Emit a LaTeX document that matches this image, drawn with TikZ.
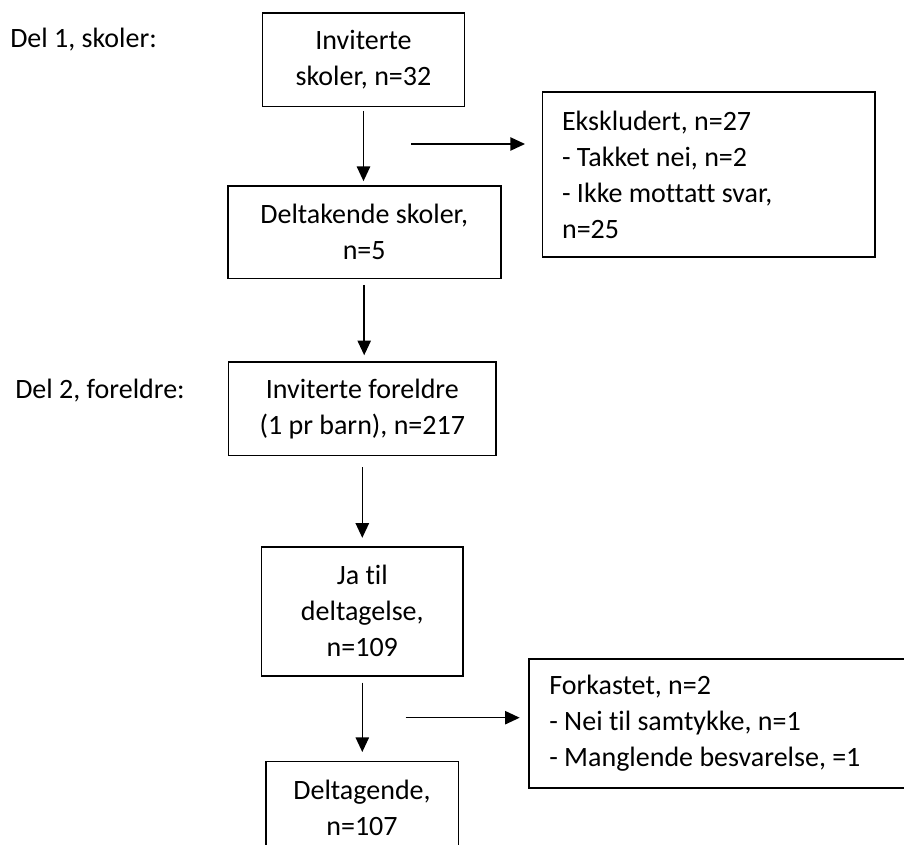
\documentclass[tikz,border=0pt]{standalone}
\usepackage{fontspec}
\setmainfont{Carlito}[Ligatures={NoCommon}]
\usetikzlibrary{arrows.meta}
\begin{document}
\begin{tikzpicture}[x=0.75pt,y=-0.75pt,
  txt/.style={font=\fontsize{21pt}{27pt}\selectfont\frenchspacing, text=black},
  cbox/.style={txt, draw=black, line width=1.25pt, rectangle, inner sep=0pt, align=center},
  lbox/.style={txt, draw=black, line width=1.25pt, rectangle, inner ysep=0pt, align=flush left},
  lbl/.style={txt, anchor=base west, inner sep=0pt},
  arr/.style={line width=1.1pt, -{Triangle[length=11pt,width=10pt]}}
]
\useasboundingbox (0,0) rectangle (904,845);
\clip (0,0) rectangle (904,845);

% labels
\node[lbl] (del1) at (10,48) {Del 1, skoler:};
\node[lbl] (del2) at (15,398) {Del 2, foreldre:};

% boxes
\node[cbox, minimum width=151.5pt, minimum height=70pt] (b1) at (363.5,60) {Inviterte\\skoler, n=32};
\node[cbox, minimum width=204.7pt, minimum height=69.7pt] (b2) at (364.2,232.2) {Deltakende skoler,\\n=5};
\node[lbox, inner xsep=14.8pt, text width=219.8pt, minimum height=123.5pt] (ex) at (708.6,174.4)
  {Ekskludert, n=27\\- Takket nei, n=2\\- Ikke mottatt svar,\\n=25};
\node[cbox, minimum width=200.6pt, minimum height=70.1pt] (b3) at (362.3,408.8) {Inviterte foreldre\\(1 pr barn), n=217};
\node[cbox, minimum width=151.1pt, minimum height=96.8pt] (b4) at (362.3,611.2) {Ja til\\deltagelse,\\n=109};
\node[cbox, minimum width=144.5pt, minimum height=69.7pt] (b5) at (362,808) {Deltagende,\\n=107};
\node[lbox, inner xsep=15.2pt, text width=262.6pt, minimum height=96.5pt] (fk) at (724.4,723.4)
  {Forkastet, n=2\\- Nei til samtykke, n=1\\- Manglende besvarelse, =1};

% vertical arrows
\draw[arr, shorten <=2.5pt, shorten >=2.8pt] (b1.south) -- (b1.south |- b2.north);
\draw[arr, shorten <=4pt, shorten >=4.5pt] (b2.south) -- (b2.south |- b3.north);
\draw[arr, shorten <=8pt, shorten >=6pt] (b3.south) -- (b3.south |- b4.north);
\draw[arr, shorten <=4.5pt, shorten >=6.5pt] (b4.south) -- (b4.south |- b5.north);

% side arrows
\coordinate (s1a) at (411,144);
\coordinate (s1b) at (525,144);
\draw[arr] (s1a) -- (s1b);
\coordinate (s2a) at (405.7,717.7);
\coordinate (s2b) at (519.7,717.7);
\draw[arr] (s2a) -- (s2b);
\end{tikzpicture}
\end{document}
